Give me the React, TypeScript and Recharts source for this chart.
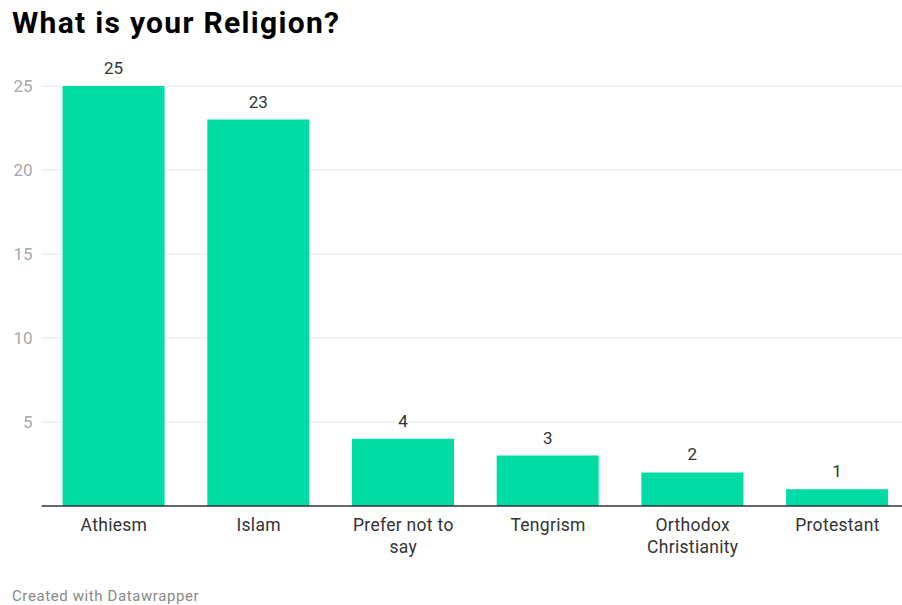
import React from "react";
import { BarChart, Bar, XAxis, YAxis, CartesianGrid, LabelList, ReferenceLine, Text } from "recharts";

const categories = ["Athiesm", "Islam", "Prefer not to say", "Tengrism", "Orthodox Christianity", "Protestant"];
const counts = [25, 23, 4, 3, 2, 1];
const yTicks = [5, 10, 15, 20, 25];

const data = categories.map((name, i) => ({ name, value: counts[i] }));

const FONT = "Roboto, 'Noto Sans', sans-serif";

const XTick = (props: any) => {
  const { x, y, payload } = props;
  return (
    <Text
      x={x}
      y={y + 13}
      width={112}
      textAnchor="middle"
      verticalAnchor="start"
      lineHeight={22}
      fontSize={17.5}
      fontFamily={FONT}
      style={{ fontSize: 17.5, fontFamily: FONT, letterSpacing: 0.3 }}
      fill="#333333"
    >
      {payload.value}
    </Text>
  );
};

export default function App() {
  return (
    <div
      style={{
        position: "absolute",
        left: 0,
        top: 0,
        width: 902,
        height: 605,
        overflow: "hidden",
        background: "#ffffff",
        fontFamily: FONT,
      }}
    >
      <div
        style={{
          position: "absolute",
          left: 12,
          top: 3,
          fontSize: 30,
          fontWeight: 700,
          letterSpacing: 1.3,
          color: "#000000",
          lineHeight: "40px",
          whiteSpace: "nowrap",
        }}
      >
        What is your Religion?
      </div>
      <div style={{ position: "absolute", left: 0, top: 0 }}>
        <BarChart
          width={920}
          height={605}
          data={data}
          margin={{ top: 86, right: 10.2, left: 0, bottom: 39 }}
        >
          <CartesianGrid horizontal vertical={false} stroke="#e5e5e5" horizontalValues={yTicks} />
          <XAxis
            dataKey="name"
            interval={0}
            axisLine={false}
            tickLine={false}
            tickSize={0}
            tickMargin={0}
            height={60}
            tick={<XTick />}
          />
          <YAxis
            domain={[0, 25]}
            ticks={yTicks}
            width={41.6}
            axisLine={false}
            tickLine={false}
            tickSize={0}
            tickMargin={9}
            tick={{ fill: "#a8a8a8", fontSize: 17, fontFamily: FONT }}
          />
          <Bar dataKey="value" fill="#00dca6" barSize={102} isAnimationActive={false}>
            <LabelList
              dataKey="value"
              position="top"
              offset={12}
              fill="#333333"
              fontSize={17}
              fontFamily={FONT}
            />
          </Bar>
          <ReferenceLine y={0} stroke="#333333" strokeWidth={1.5} />
        </BarChart>
      </div>
      <div
        style={{
          position: "absolute",
          left: 12,
          top: 587,
          fontSize: 15,
          letterSpacing: 0.6,
          color: "#888888",
          lineHeight: "18px",
          whiteSpace: "nowrap",
        }}
      >
        Created with Datawrapper
      </div>
    </div>
  );
}
